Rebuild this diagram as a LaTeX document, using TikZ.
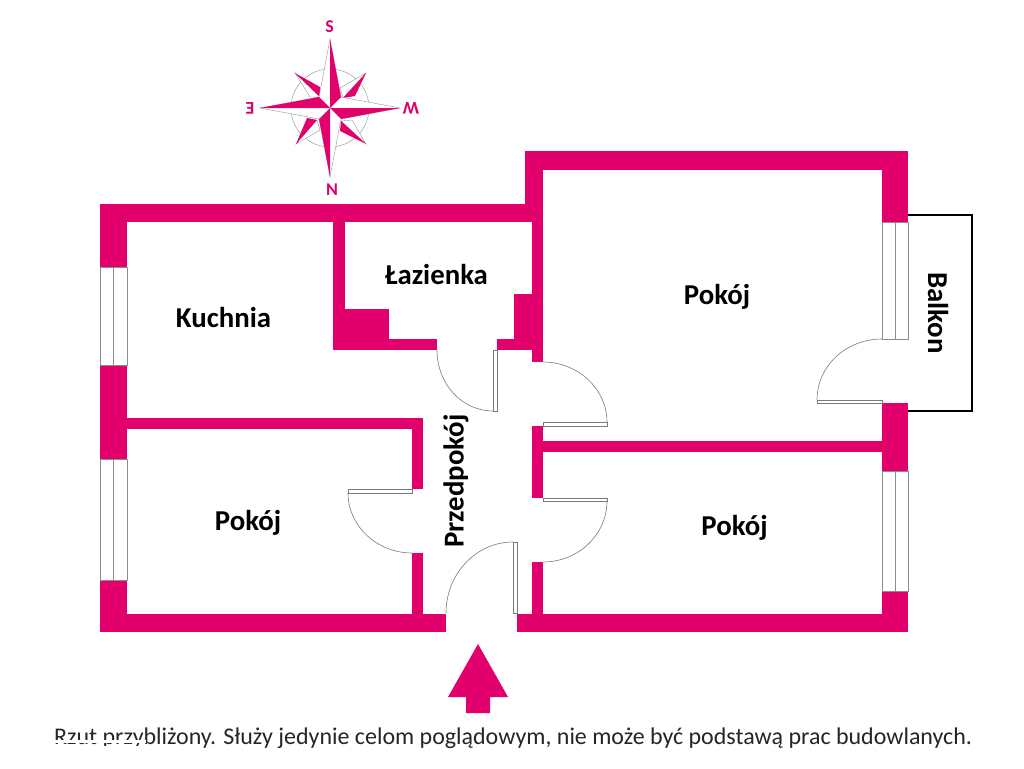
\documentclass[tikz,border=0pt]{standalone}
\usepackage{fontspec}
\setmainfont{Carlito}
\definecolor{wall}{HTML}{E2006C}
\definecolor{winline}{HTML}{8C8C8C}
\definecolor{doorline}{HTML}{7A7A7A}
\tikzset{
  wallfill/.style={fill=wall,draw=none},
  winframe/.style={draw=winline,line width=0.8pt,fill=white},
  doorarc/.style={draw=doorline,line width=0.6pt},
  doorleaf/.style={draw=doorline,line width=0.7pt,fill=white},
  roomlabel/.style={font=\bfseries\fontsize{28.8}{28.8}\selectfont,text=black,inner sep=0pt},
  compassletter/.style={font=\bfseries\fontsize{18}{18}\selectfont,text=wall,inner sep=0pt},
  halfwhite/.style={fill=white,draw=winline,line width=0.35pt},
  halfwall/.style={fill=wall,draw=none}
}
\begin{document}
\begin{tikzpicture}[x=1pt,y=-1pt]
\useasboundingbox (0,0) rectangle (1024,768);
\fill[white] (0,0) rectangle (1024,768);
% balcony
\draw[black,line width=1.2pt] (908,215) -- (972,215) -- (972,411) -- (908,411);
% walls, left block
\fill[wallfill] (100,204) rectangle (543,222);
\fill[wallfill] (100,204) rectangle (127,267);
\fill[wallfill] (100,365) rectangle (127,459);
\fill[wallfill] (100,580) rectangle (127,632);
\fill[wallfill] (100,614) rectangle (446,632);
\fill[wallfill] (127,418) rectangle (423,429);
\fill[wallfill] (412,418) rectangle (423,489);
\fill[wallfill] (412,553) rectangle (423,614);
% bathroom
\fill[wallfill] (333,222) rectangle (345,350);
\fill[wallfill] (333,309) rectangle (389,350);
\fill[wallfill] (333,339) rectangle (437,350);
\fill[wallfill] (497,339) rectangle (532,350);
\fill[wallfill] (514,294) rectangle (532,350);
\fill[wallfill] (532,222) rectangle (543,362);
% right block
\fill[wallfill] (525,151) rectangle (908,170);
\fill[wallfill] (525,151) rectangle (543,222);
\fill[wallfill] (882,151) rectangle (908,222);
\fill[wallfill] (882,403) rectangle (908,471);
\fill[wallfill] (882,591) rectangle (908,632);
\fill[wallfill] (517,614) rectangle (908,632);
\fill[wallfill] (543,441) rectangle (882,452);
\fill[wallfill] (532,426) rectangle (543,498);
\fill[wallfill] (532,562) rectangle (543,614);
% windows
\draw[winframe] (100.5,267) rectangle (127,365);
\draw[winframe] (113.7,267) -- (113.7,365);
\draw[winframe] (100.5,459) rectangle (127,580);
\draw[winframe] (113.7,459) -- (113.7,580);
\draw[winframe] (882,222) rectangle (908,339);
\draw[winframe] (895,222) -- (895,339);
\draw[winframe] (882,471) rectangle (908,591);
\draw[winframe] (895,471) -- (895,591);
% doors
\draw[doorleaf] (493,350) rectangle (497,411);
\draw[doorarc] (437,350) .. controls (437,384) and (462,411) .. (493,411);
\draw[doorleaf] (543,422) rectangle (607,426);
\draw[doorarc] (543,362) .. controls (578,362) and (607,389) .. (607,422);
\draw[doorleaf] (543,498) rectangle (607,501);
\draw[doorarc] (543,562) .. controls (578,562) and (607,535) .. (607,501);
\draw[doorleaf] (348,489) rectangle (412,493);
\draw[doorarc] (348,493) .. controls (348,526) and (377,553) .. (412,553);
\draw[doorleaf] (513,542) rectangle (517,613);
\draw[doorarc] (446,613) .. controls (446,574) and (476,542) .. (513,542);
\draw[doorleaf] (817,400) rectangle (882,403);
\draw[doorarc] (882,339) .. controls (846,339) and (817,366) .. (817,400);
% entry arrow
\fill[wallfill] (478,644) -- (508,697) -- (490,697) -- (490,713) -- (466,713) -- (466,697) -- (448,697) -- cycle;
% compass
\draw[winline,line width=0.4pt] (330,108) circle[radius=39];
\filldraw[halfwhite] (366,73) -- (343,98) -- (340,88) -- cycle;
\fill[halfwall] (366,73) -- (343,98) -- (355,96) -- cycle;
\filldraw[halfwhite] (295,73) -- (320,97) -- (310,97) -- cycle;
\fill[halfwall] (295,73) -- (320,87) -- (320,97) -- cycle;
\filldraw[halfwhite] (296,144) -- (317,120) -- (320,130) -- cycle;
\fill[halfwall] (296,144) -- (317,120) -- (307,118) -- cycle;
\filldraw[halfwhite] (366,144) -- (341,121) -- (352,120) -- cycle;
\fill[halfwall] (366,144) -- (340,131) -- (341,121) -- cycle;
\filldraw[halfwhite] (330,39) -- (319,97) -- (260,108) -- (319,119) -- (330,177) -- (341,119) -- (400,108) -- (341,97) -- cycle;
\fill[halfwall] (330,39) -- (341,97) -- (330,108) -- cycle;
\fill[halfwall] (400,108) -- (341,119) -- (330,108) -- cycle;
\fill[halfwall] (330,177) -- (319,119) -- (330,108) -- cycle;
\fill[halfwall] (260,108) -- (319,97) -- (330,108) -- cycle;
\node[compassletter] (cs) at (329.5,27) {S};
\node[compassletter] (cn) at (332,190) {N};
\node[compassletter,rotate=180] (ce) at (250,108) {E};
\node[compassletter,rotate=180] (cw) at (411,108.5) {W};
% labels
\node[roomlabel] (kuchnia) at (223.5,317) {Kuchnia};
\node[roomlabel] (lazienka) at (436.5,274) {Łazienka};
\node[roomlabel] (pokoj1) at (717,297) {Pokój};
\node[roomlabel] (pokoj2) at (248,523) {Pokój};
\node[roomlabel] (pokoj3) at (734.5,528) {Pokój};
\node[roomlabel,rotate=90] (przed) at (456,481) {Przedpokój};
\node[roomlabel,rotate=-90] (balkon) at (938,313) {Balkon};
\node[inner sep=0pt,anchor=base west,font=\fontsize{23.96}{23.96}\selectfont,text=black!85] (note) at (54,744) {Rzut przybliżony. Służy jedynie celom poglądowym, nie może być podstawą prac budowlanych.};
% the reference's white scar across the start of the note
\fill[white] (52,739.5) rectangle (146,742.5);
\fill[white] (52,746) rectangle (146,756);
\end{tikzpicture}
\end{document}
